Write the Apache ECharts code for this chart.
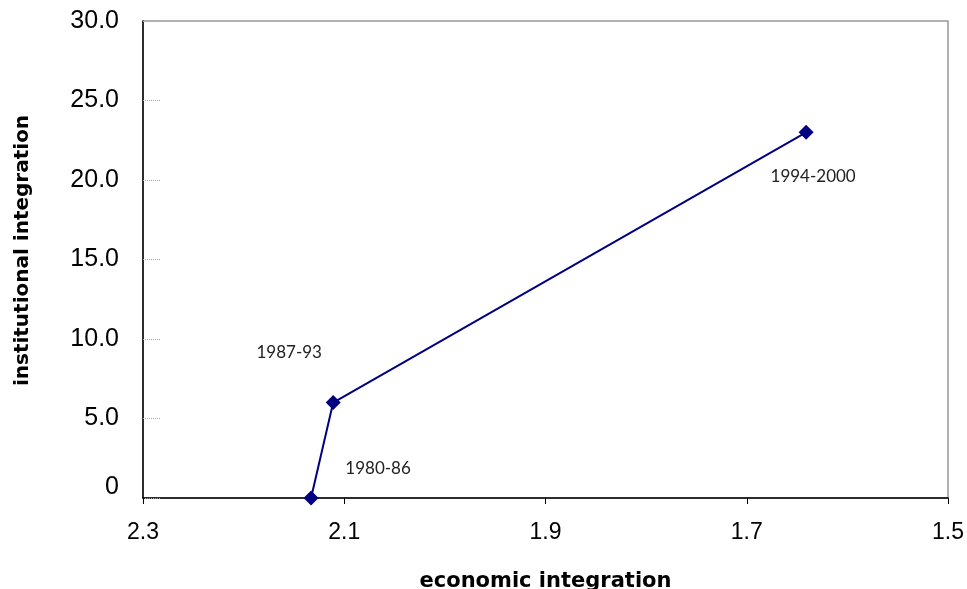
<!DOCTYPE html>
<html>
<head>
<meta charset="utf-8">
<script src="https://cdn.jsdelivr.net/npm/echarts@6/dist/echarts.min.js"></script>
<style>html,body{margin:0;padding:0;background:#fff}#c{width:967px;height:589px}</style>
</head>
<body>
<div id="c"></div>
<script>
const periods = ['1980-86', '1987-93', '1994-2000'];
const economicIntegration = [2.133, 2.111, 1.641];
const institutionalIntegration = [0, 6.0, 23.0];
const xTicks = [1.5, 1.7, 1.9, 2.1, 2.3];
const yTicks = [0, 5, 10, 15, 20, 25, 30];

const labelOffsets = [[67, -29], [-44, -50], [7, 44]];

const chart = echarts.init(document.getElementById('c'), null, {renderer: 'canvas'});
const data = periods.map((p, i) => ({
  value: [economicIntegration[i], institutionalIntegration[i]],
  name: p,
  label: {offset: labelOffsets[i]}
}));

chart.setOption({
  animation: false,
  backgroundColor: '#fff',
  grid: {left: 143, right: 19, top: 21, bottom: 91, show: true, borderColor: '#999', borderWidth: 1.5,
    backgroundColor: 'transparent', containLabel: false, outerBoundsMode: 'none'},
  xAxis: {
    type: 'value', inverse: true, min: xTicks[0], max: xTicks[xTicks.length - 1], interval: 0.2,
    name: 'economic integration', nameLocation: 'middle', nameGap: 73,
    nameTextStyle: {fontFamily: 'DejaVu Sans', fontWeight: 'bold', fontSize: 21, color: '#000'},
    axisLine: {show: true, onZero: false, lineStyle: {color: '#000', width: 1.5}},
    axisTick: {show: true, length: 6, lineStyle: {color: '#000'}},
    axisLabel: {color: '#000', fontFamily: 'Arial, Liberation Sans', fontSize: 23, margin: 23,
      formatter: v => v.toFixed(1)},
    splitLine: {show: false}
  },
  yAxis: {
    type: 'value', min: yTicks[0], max: yTicks[yTicks.length - 1], interval: 5,
    name: 'institutional integration', nameLocation: 'middle', nameGap: 110,
    nameTextStyle: {fontFamily: 'DejaVu Sans', fontWeight: 'bold', fontSize: 20, color: '#000', padding: [0, 0, 0, 18]},
    axisLine: {show: true, lineStyle: {color: '#000', width: 1.5}},
    axisTick: {show: true, inside: true, length: 18, lineStyle: {color: '#aaa', type: 'dotted', width: 1}},
    axisLabel: {color: '#000', fontFamily: 'Arial, Liberation Sans', fontSize: 25, margin: 24,
      formatter: v => v === 0 ? '{z|0}' : v.toFixed(1),
      rich: {z: {fontFamily: 'Arial, Liberation Sans', fontSize: 25, color: '#000', padding: [0, 0, 22, 0]}}},
    splitLine: {show: false}
  },
  series: [{
    type: 'line',
    data: data,
    symbol: 'diamond',
    symbolSize: 15,
    lineStyle: {color: '#000080', width: 2},
    itemStyle: {color: '#000080'},
    label: {
      show: true, position: 'inside', formatter: p => p.name,
      color: '#222', fontFamily: 'Lato, sans-serif', fontSize: 17, fontWeight: 400
    }
  }]
});
</script>
</body>
</html>
